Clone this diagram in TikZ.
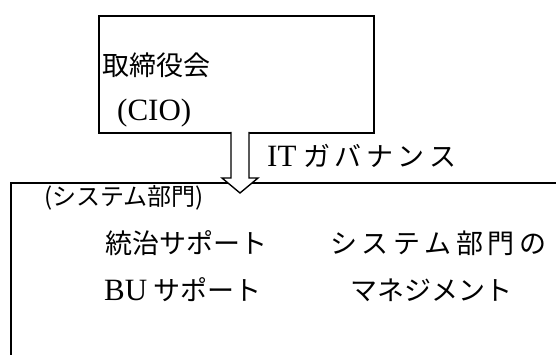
\documentclass[tikz,border=0pt]{standalone}
\usepackage{fontspec}
\setmainfont{Liberation Serif}
\newfontfamily\jp{Noto Sans CJK JP}
\newcommand{\latbig}{\fontsize{31}{33}\selectfont}
\begin{document}
\begin{tikzpicture}[x=1pt,y=-1pt,
  frame/.style={draw=black,line width=1.6pt},
  lbl/.style={anchor=west,inner sep=0pt,font=\fontsize{27}{30}\selectfont},
  blockarrow/.style={draw=black,line width=1.4pt,fill=white,line join=miter}]
\useasboundingbox (0,0) rectangle (556,355);
% top box
\node[frame,minimum width=275pt,minimum height=117pt,anchor=north west,inner sep=0pt] (board) at (98,15) {};
\node[lbl] (t1) at (102,65) {\jp 取締役会};
\node[lbl] (t2) at (117,113) {\latbig (CIO)};
% lower open box
\coordinate (lowTL) at (11,183);
\draw[frame] (556,183) -- (lowTL) -- (11,355);
\draw[line width=2.4pt] (lowTL) -- (11,355);
% block arrow
\coordinate (aTop) at (240,132);
\coordinate (aTip) at (240,193);
\draw[blockarrow] ([xshift=-9pt]aTop) -- ([xshift=-9pt,yshift=-46pt]aTop) -- ([xshift=-18pt,yshift=-46pt]aTop)
  -- (aTip) -- ([xshift=18pt,yshift=-46pt]aTop) -- ([xshift=9pt,yshift=-46pt]aTop) -- ([xshift=9pt]aTop);
\node[lbl] (gov) at (267,156) {{\latbig IT}\hspace{7pt}{\jp ガ\,バ\,ナ\,ン\,ス}};
% lower texts
\node[lbl,font=\fontsize{24}{28}\selectfont] (sys) at (44,198) {{\jp (システム部門)}};
\node[lbl] (s1) at (105,243) {\jp 統治サポート};
\node[lbl] (s2) at (330,243) {\jp シ\,ス\,テ\,ム\,部\,門\,の};
\node[lbl] (s3) at (104,290) {{\latbig BU}\hspace{6pt}{\jp サポート}};
\node[lbl] (s4) at (350,290) {\jp マネジメント};
\end{tikzpicture}
\end{document}
